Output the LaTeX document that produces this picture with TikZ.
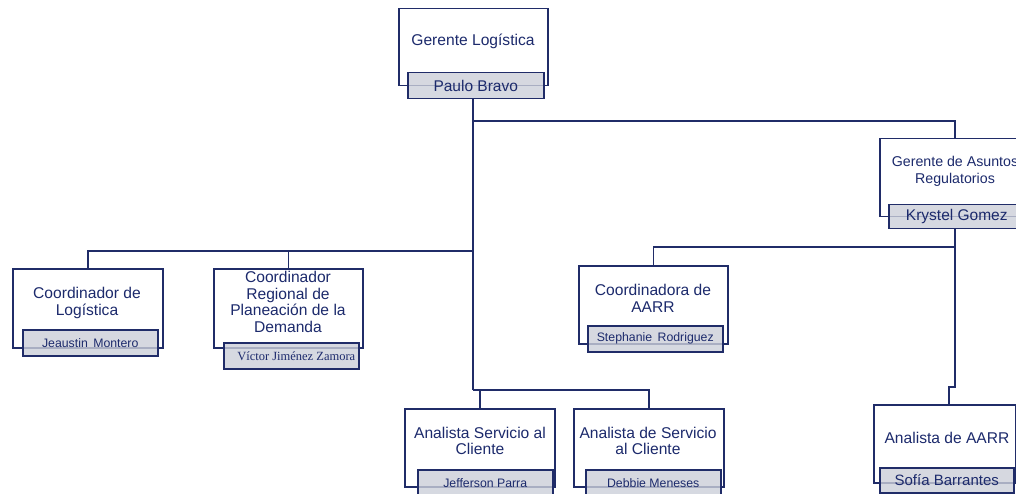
\documentclass[tikz,border=0pt]{standalone}
\usepackage{fontspec}
\setmainfont{Liberation Sans}
\newfontfamily\serifname{Liberation Serif}
\definecolor{navy}{RGB}{32,44,104}
\definecolor{ink}{RGB}{28,42,108}
\definecolor{tag}{RGB}{204,207,217}
\begin{document}
\begin{tikzpicture}[x=1pt,y=-1pt,
  post/.style={draw=navy, line width=1.5pt, fill=white, inner sep=0pt, anchor=north west},
  title/.style={text=ink, align=center, font=\fontsize{15.6}{16.7}\selectfont, inner sep=0pt},
  tagbox/.style={draw=navy, line width=1.5pt, fill=tag, fill opacity=0.8, text opacity=1,
    text=ink, inner sep=0pt, anchor=north west, font=\fontsize{12.3}{14}\selectfont},
  bigtag/.style={font=\fontsize{15.5}{16}\selectfont},
  link/.style={draw=navy, line width=1.5pt}]
\useasboundingbox (0,0) rectangle (1016,494);
\clip (0,0) rectangle (1016,494);

% reference lines for the connector buses
\coordinate (trunk) at (473,0);
\coordinate (rowA) at (0,121);
\coordinate (rowB) at (0,251);
\coordinate (rowC) at (0,390);
\coordinate (rowD) at (0,247);
\coordinate (rowE) at (0,387);
\coordinate (dropE) at (949,0);

% Gerente Logistica
\node[post, minimum width=149pt, minimum height=77pt] (gl) at (398,8) {};
\node[title] (glt) at (473,41) {Gerente Logística};
\node[tagbox, bigtag, minimum width=136pt, minimum height=26pt] (gln) at (407,72) {Paulo Bravo};

% Gerente de Asuntos Regulatorios
\node[post, minimum width=150pt, minimum height=78pt] (gar) at (879,138) {};
\node[title, font=\fontsize{14.2}{16.7}\selectfont] (gart) at (955,171) {Gerente de Asuntos\\Regulatorios};
\node[tagbox, bigtag, minimum width=136pt, minimum height=24pt] (garn) at (888,204) {Krystel Gomez};

% Coordinadora de AARR
\node[post, minimum width=149pt, minimum height=78pt] (caa) at (578,265) {};
\node[title] (caat) at (653,298) {Coordinadora de\\AARR};
\node[tagbox, minimum width=135pt, minimum height=26pt] (caan) at (587,325) {Stephanie\, Rodriguez};

% Coordinador de Logistica
\node[post, minimum width=150pt, minimum height=79pt] (cl) at (12,268) {};
\node[title] (clt) at (87,303) {Coordinador de\\Logística};
\node[tagbox, minimum width=135pt, minimum height=26pt] (cln) at (22,329) {Jeaustin\, Montero};

% Coordinador Regional de Planeacion de la Demanda
\node[post, minimum width=149pt, minimum height=79pt] (crp) at (213,268) {};
\node[title] (crpt) at (288,302) {Coordinador\\Regional de\\Planeación de la\\Demanda};
\node[tagbox, minimum width=135pt, minimum height=26pt,
  font=\serifname\fontsize{12.5}{14}\selectfont] (crpn) at (223,342) {\hspace*{10pt}Víctor Jiménez Zamora};

% Analista Servicio al Cliente
\node[post, minimum width=150pt, minimum height=78pt] (asc) at (404,408) {};
\node[title] (asct) at (480,441) {Analista Servicio al\\Cliente};
\node[tagbox, minimum width=135pt, minimum height=26pt] (ascn) at (417,469) {Jefferson Parra};

% Analista de Servicio al Cliente
\node[post, minimum width=150pt, minimum height=78pt] (adsc) at (573,408) {};
\node[title] (adsct) at (648,441) {Analista de Servicio\\al Cliente};
\node[tagbox, minimum width=135pt, minimum height=26pt] (adscn) at (585,469) {Debbie Meneses};

% Analista de AARR
\node[post, minimum width=142pt, minimum height=78pt] (aa) at (873,404) {};
\node[title] (aat) at (947,438) {Analista de AARR};
\node[tagbox, font=\fontsize{15}{16}\selectfont, minimum width=134pt, minimum height=25pt] (aan) at (879,467) {Sofía Barrantes};

% connectors
\draw[link] (gln.south -| trunk) -- (trunk |- rowC);
\draw[link] (trunk |- rowA) -| (gar.north);
\draw[link] (trunk |- rowB) -| (cl.north);
\draw[link] (trunk |- rowB) -| (crp.north);
\draw[link] (trunk |- rowC) -| (asc.north);
\draw[link] (trunk |- rowC) -| (adsc.north);
\draw[link] (garn.south -| gar.north) -- (gar.north |- rowE) -| (dropE |- aa.north);
\draw[link] (gar.north |- rowD) -| (caa.north);
\end{tikzpicture}
\end{document}
